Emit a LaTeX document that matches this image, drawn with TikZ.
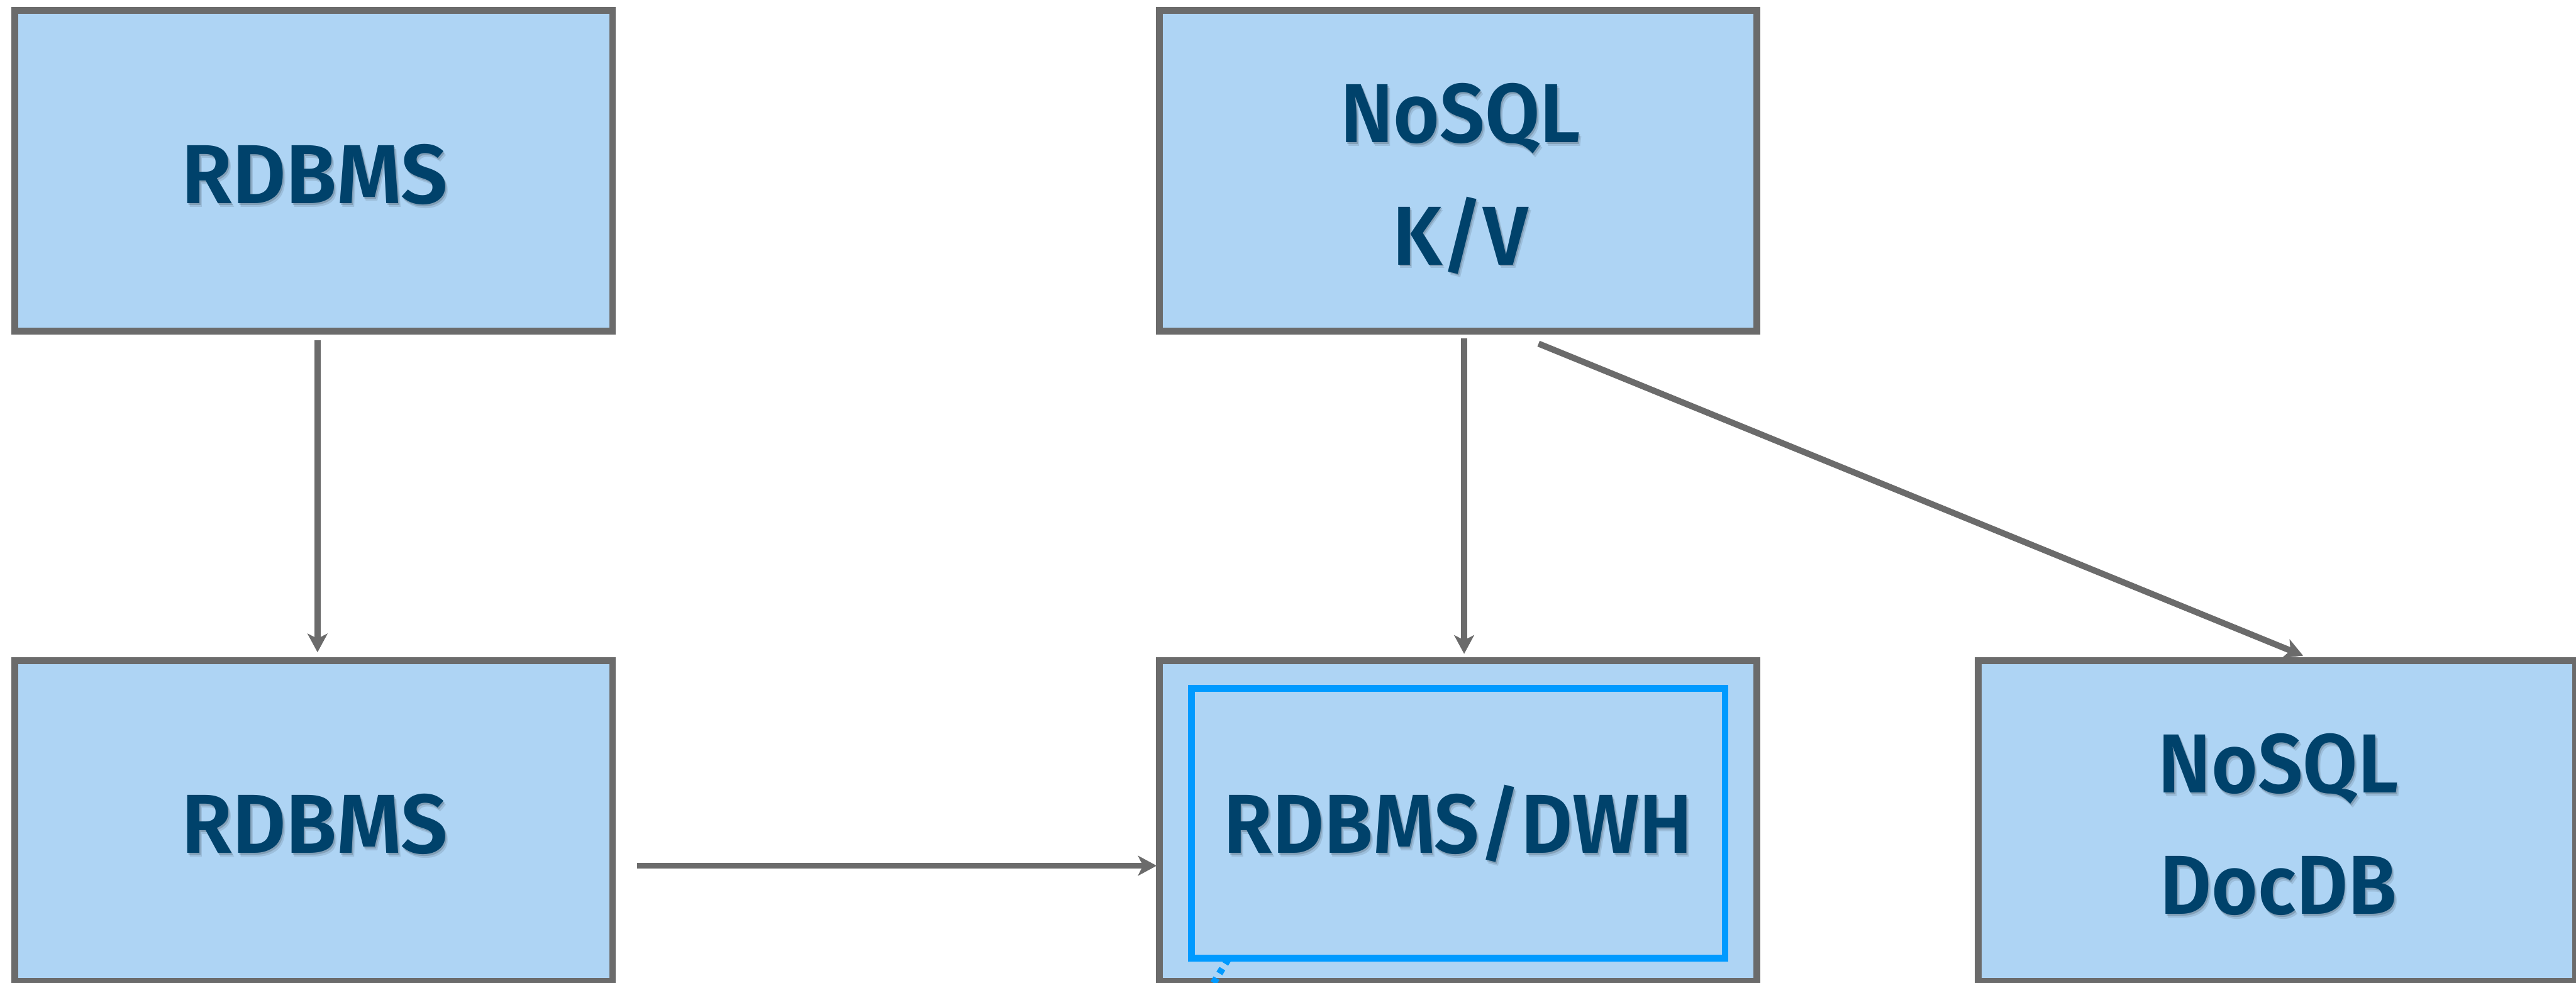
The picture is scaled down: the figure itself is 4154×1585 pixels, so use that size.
\documentclass[tikz,border=0pt]{standalone}
\usepackage{fontspec}
\newfontfamily\lblfont{Fira Sans SemiBold}[FakeStretch=0.95]
\newfontfamily\lblfontw{Fira Sans SemiBold}[FakeStretch=0.99]
\usetikzlibrary{arrows.meta,calc}
\definecolor{boxfill}{HTML}{AED4F4}
\definecolor{boxline}{HTML}{6B6B6B}
\definecolor{txtcol}{HTML}{00426B}
\definecolor{hlblue}{HTML}{009AFF}
\newcommand\lbltext[4]{%
  \node[lbl, anchor=base, text=black, opacity=0.10] (#1s1) at ($(#2,#3)+(4,6)$) {#4};%
  \node[lbl, anchor=base, text=black, opacity=0.16] (#1s2) at ($(#2,#3)+(2,3)$) {#4};%
  \node[lbl, anchor=base] (#1) at (#2,#3) {#4};%
}
\newcommand\widefnt{\lblfontw\fontsize{38.4}{46}\selectfont}
\begin{document}
\begin{tikzpicture}[x=0.01cm,y=-0.01cm,
  dbbox/.style={draw=boxline, fill=boxfill, line width=0.11cm,
    minimum width=9.63cm, minimum height=5.17cm, inner sep=0pt},
  innerbox/.style={draw=hlblue, line width=0.11cm,
    minimum width=8.60cm, minimum height=4.345cm, inner sep=0pt},
  lbl/.style={font=\lblfont\fontsize{38.4}{46}\selectfont, text=txtcol, inner sep=0pt},
  conn/.style={draw=boxline, line width=0.10cm,
    -{Stealth[length=0.30cm, width=0.32cm, inset=0.08cm]}},
  hlconn/.style={draw=hlblue, line width=0.11cm, dash pattern=on 0.09cm off 0.09cm}
]
\fill[white] (0,0) rectangle (4154,1585);
\useasboundingbox (0,0) rectangle (4154,1585);

% boxes
\node[dbbox] (A) at (506,275.5) {};
\node[dbbox] (B) at (2351.5,275.5) {};
\node[dbbox] (C) at (506,1324) {};
\node[dbbox] (D) at (2351.5,1324) {};
\node[dbbox] (E) at (3671.5,1324) {};
\node[innerbox] (DI) at (2351.5,1327.75) {};

% labels
\lbltext{At}{507}{328}{\widefnt RDBMS}
\lbltext{Bt1}{2355}{230}{NoSQL}
\lbltext{Bt2}{2355}{427}{K/V}
\lbltext{Ct}{507}{1376}{\widefnt RDBMS}
\lbltext{Dt}{2351.5}{1376}{RDBMS/DWH}
\lbltext{Et1}{3674}{1278}{NoSQL}
\lbltext{Et2}{3674}{1474}{DocDB}

% connectors
\draw[conn] ($(A.south)+(6,9)$) -- ($(C.north)+(6,-8)$);
\draw[conn] ($(B.south)+(9.5,5.5)$) -- ($(D.north)+(9.5,-5.5)$);
\draw[conn] ($(B.south)+(129.5,14.5)$) -- ($(E.north)+(42.5,-2.5)$);
\draw[conn] ($(C.east)+(34.5,72)$) -- ($(D.west)+(1,72)$);

\coordinate (dwhout) at (1933,1624);
\draw[hlconn] ($(DI.south)+(-371,-4)$) -- (dwhout);
\end{tikzpicture}
\end{document}
